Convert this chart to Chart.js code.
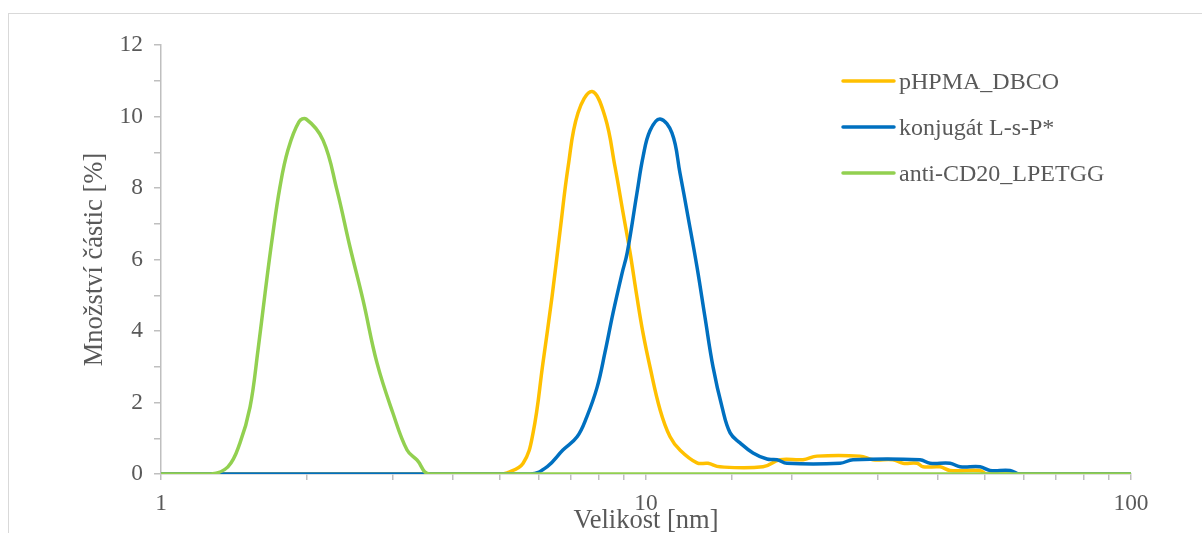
<!DOCTYPE html>
<html><head><meta charset="utf-8">
<script src="https://cdn.jsdelivr.net/npm/chart.js@4/dist/chart.umd.min.js"></script>
<style>
html,body{margin:0;padding:0;background:#fff;overflow:hidden;}
#wrap{position:relative;width:1202px;height:533px;overflow:hidden;}
#frame{position:absolute;left:8px;top:13px;width:1400px;height:800px;border:1px solid #D9D9D9;}
canvas{position:absolute;left:0;top:0;}
</style></head><body>
<div id="wrap"><div id="frame"></div><canvas id="c" width="1202" height="533"></canvas></div>
<script>
// ---- data ----
const seriesNames = ['pHPMA_DBCO', 'konjugát L-s-P*', 'anti-CD20_LPETGG'];

const sizesDBCO  = [1, 5.0, 5.17, 5.58, 5.85, 6.13, 6.40, 6.65, 6.91, 7.24, 7.74, 8.23, 8.63, 8.97, 9.27, 9.58, 9.86, 10.19, 10.69, 11.21, 11.75, 12.74, 13.42, 14.21, 17.43, 18.90, 21.07, 22.52, 27.62, 29.38, 32.30, 33.88, 36.22, 37.26, 40.39, 42.36, 48.84, 50.48, 100];
const valuesDBCO = [0, 0, 0.03, 0.3, 1.15, 3.1, 4.95, 6.8, 8.6, 10.1, 10.7, 10.0, 8.6, 7.3, 6.2, 4.95, 3.94, 3.0, 1.8, 1.04, 0.67, 0.31, 0.3, 0.2, 0.2, 0.4, 0.4, 0.5, 0.5, 0.4, 0.4, 0.3, 0.3, 0.2, 0.2, 0.1, 0.1, 0, 0];

const sizesLSP  = [1, 5.77, 6.25, 6.74, 7.21, 7.55, 7.93, 8.23, 8.55, 8.92, 9.15, 9.58, 9.86, 10.19, 10.69, 11.31, 11.75, 12.21, 12.74, 13.23, 13.75, 14.35, 14.91, 15.63, 16.62, 17.76, 18.63, 19.53, 25.12, 26.72, 36.72, 38.51, 42.36, 44.41, 48.84, 51.21, 56.30, 59.03, 100];
const valuesLSP = [0, 0, 0.2, 0.67, 1.04, 1.6, 2.43, 3.4, 4.5, 5.6, 6.2, 7.86, 8.87, 9.6, 9.93, 9.54, 8.42, 7.19, 5.79, 4.39, 2.99, 1.87, 1.15, 0.87, 0.59, 0.42, 0.4, 0.3, 0.3, 0.4, 0.4, 0.3, 0.3, 0.2, 0.2, 0.1, 0.1, 0, 0];

const sizesCD20  = [1, 1.268, 1.374, 1.455, 1.526, 1.585, 1.639, 1.694, 1.759, 1.827, 1.925, 1.991, 2.158, 2.306, 2.453, 2.609, 2.789, 3.008, 3.216, 3.372, 3.586, 100];
const valuesCD20 = [0, 0, 0.2, 0.87, 1.87, 3.47, 5.06, 6.55, 8.03, 9.06, 9.85, 9.93, 9.34, 7.94, 6.35, 4.87, 3.1, 1.7, 0.67, 0.39, 0, 0];

const xTickLabels = [1, 10, 100];
const yTickLabels = [0, 2, 4, 6, 8, 10, 12];

// ---- styling ----
const FONT = '"Liberation Serif", "Times New Roman", serif';
const TEXT = '#595959';
const AXIS = '#BFBFBF';
const COLORS = ['#FFC000', '#0070C0', '#92D050'];
const LINE_W = 3.5;

const toPoints = (xs, ys) => xs.map((x, i) => ({x: x, y: ys[i]}));

const legendPlugin = {
  id: 'insideLegend',
  afterDatasetsDraw(chart) {
    const c = chart.ctx;
    c.save();
    c.font = '24px ' + FONT;
    c.textBaseline = 'middle';
    c.textAlign = 'left';
    chart.data.datasets.forEach((ds, i) => {
      const y = 81 + i * 46;
      c.strokeStyle = ds.borderColor;
      c.lineWidth = LINE_W;
      c.lineCap = 'round';
      c.beginPath(); c.moveTo(843, y); c.lineTo(894, y); c.stroke();
      c.fillStyle = TEXT;
      c.fillText(ds.label, 899, y + 2);
    });
    c.restore();
  }
};

new Chart(document.getElementById('c').getContext('2d'), {
  type: 'line',
  data: {
    datasets: [
      {label: seriesNames[0], data: toPoints(sizesDBCO, valuesDBCO), borderColor: COLORS[0], backgroundColor: COLORS[0], borderWidth: LINE_W, order: 3},
      {label: seriesNames[1], data: toPoints(sizesLSP, valuesLSP), borderColor: COLORS[1], backgroundColor: COLORS[1], borderWidth: LINE_W, order: 2},
      {label: seriesNames[2], data: toPoints(sizesCD20, valuesCD20), borderColor: COLORS[2], backgroundColor: COLORS[2], borderWidth: LINE_W, order: 1}
    ]
  },
  options: {
    responsive: false,
    animation: false,
    layout: {padding: {left: 0, top: 45, right: 71, bottom: 0}},
    plugins: {legend: {display: false}, tooltip: {enabled: false}},
    elements: {
      point: {radius: 0},
      line: {tension: 0.4, capBezierPoints: true, borderCapStyle: 'round', borderJoinStyle: 'round', fill: false}
    },
    scales: {
      x: {
        type: 'logarithmic', min: 1, max: 100, position: 'bottom',
        grid: {drawOnChartArea: false, drawTicks: true, tickLength: 6, color: AXIS, lineWidth: 1.5},
        border: {display: true, color: AXIS, width: 1.5},
        ticks: {
          autoSkip: false, maxRotation: 0, minRotation: 0, padding: 10, color: TEXT,
          font: {family: FONT, size: 23.4},
          callback: (v) => {
            const hit = xTickLabels.find(t => Math.abs(t - v) < 1e-6 * t);
            return hit !== undefined ? String(hit) : '';
          }
        },
        title: {display: true, text: 'Velikost [nm]', color: TEXT, font: {family: FONT, size: 26.5, lineHeight: 0.9}, padding: {top: 0, bottom: 0}},
        afterFit: (s) => { s.height = 59; }
      },
      y: {
        min: 0, max: 12,
        grid: {drawOnChartArea: false, drawTicks: true, tickLength: 7, color: AXIS, lineWidth: 1.5},
        border: {display: true, color: AXIS, width: 1.5},
        ticks: {
          stepSize: 1, padding: 11, color: TEXT,
          font: {family: FONT, size: 23.4},
          callback: (v) => yTickLabels.includes(v) ? String(v) : ''
        },
        title: {display: true, text: 'Množství částic [%]', color: TEXT, font: {family: FONT, size: 26.5, lineHeight: 0.9}, padding: {top: 83, bottom: 0}},
        afterFit: (s) => { s.width = 161; }
      }
    }
  },
  plugins: [legendPlugin]
});
</script>
</body></html>
